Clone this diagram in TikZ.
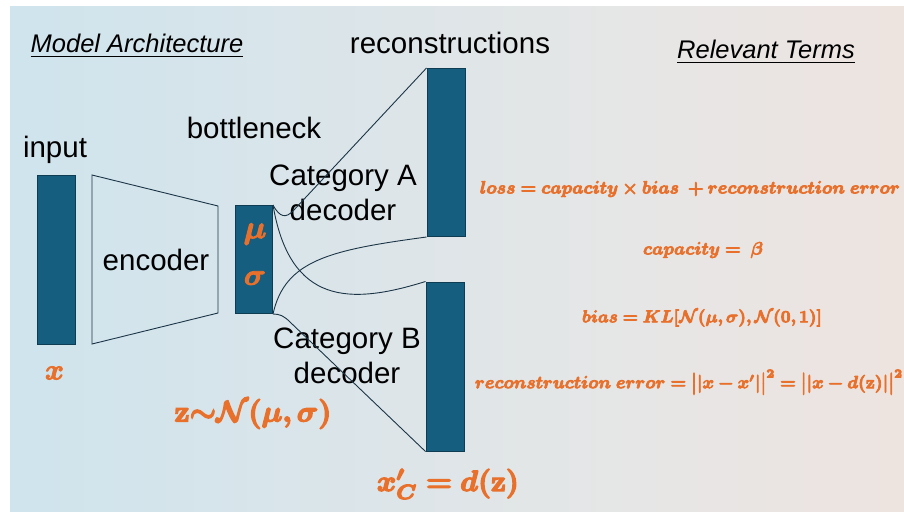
\documentclass[tikz,border=0pt]{standalone}
\usepackage[no-math]{fontspec}
\setmainfont{Liberation Sans}
\usepackage{amsmath,bm,graphicx}
\definecolor{bgL}{HTML}{C1E3F3}
\definecolor{bgLM}{HTML}{D2E4EC}
\definecolor{bgM}{HTML}{E6E6E6}
\definecolor{bgMR}{HTML}{F2E2DB}
\definecolor{bgR}{HTML}{FAE0D5}
\definecolor{barfill}{HTML}{165E80}
\definecolor{barline}{HTML}{0E3C52}
\definecolor{wire}{HTML}{1B3546}
\definecolor{orng}{HTML}{E8702B}
\pgfdeclarehorizontalshading{bgshade}{100bp}{color(0bp)=(bgL); color(30bp)=(bgLM); color(60bp)=(bgM); color(85bp)=(bgMR); color(100bp)=(bgR)}
\newcommand{\heavytxt}[2]{\special{pdf:literal direct 0.910 0.439 0.169 RG #1 w 2 Tr}#2\special{pdf:literal direct 0 Tr}}
\begin{document}
\begin{tikzpicture}[x=1pt,y=-1pt,
  bar/.style={draw=barline,line width=1pt,fill=barfill,inner sep=0pt,minimum width=38pt},
  lbl/.style={font=\fontsize{29.5}{35}\selectfont,inner sep=0pt,align=center},
  head/.style={font=\fontsize{25.5}{30}\selectfont\itshape,inner sep=0pt},
  om/.style={text=orng,inner sep=0pt},
  wirel/.style={draw=wire,line width=0.9pt}]
\useasboundingbox (0,0) rectangle (904,511);
\shade[shading=bgshade] (10,7) rectangle (904,511);

% headings
\node[head] (h1) at (137,46) {\underline{Model Architecture}};
\node[head] (h2) at (766,52) {\underline{Relevant Terms}};
\node[lbl] (rec) at (450,43) {reconstructions};
\node[lbl] (inp) at (55,150) {input};
\node[lbl] (bot) at (254,128) {bottleneck};

% bars
\node[bar,minimum height=169pt] (in) at (56,259.5) {};
\node[bar,minimum height=108pt,minimum width=37pt] (bn) at (254,259.5) {};
\node[bar,minimum height=168pt] (ra) at (446,152.5) {};
\node[bar,minimum height=169pt] (rb) at (445,366.5) {};

% encoder
\coordinate (e1) at (92,175);
\coordinate (e2) at (218,206);
\coordinate (e3) at (218,313);
\coordinate (e4) at (92,344);
\draw[wirel] (e1) -- (e2) -- (e3) -- (e4) -- cycle;
\node[lbl] (enc) at (156,260) {encoder};

% decoder labels
\node[lbl] (catA) at (343,192.5) {Category A\\decoder};
\node[lbl] (catB) at (347,355.5) {Category B\\decoder};

% connectors
\draw[wirel] (bn.north east) .. controls (280,218) and (286,218) .. (293,211) -- (ra.north west);
\draw[wirel] (bn.north east) .. controls (290,305) and (350,305) .. (rb.north west);
\draw[wirel] (bn.south east) .. controls (285,260) and (330,250) .. (ra.south west);
\draw[wirel] (bn.south east) .. controls (280,314) and (284,316) .. (290,322) -- (rb.south west);

% orange math
\node[om] (mu) at (255,234) {\resizebox{23pt}{!}{\heavytxt{0.3}{$\bm{\mu}$}}};
\node[om] (sg) at (255,278) {\resizebox{22pt}{!}{\heavytxt{0.3}{$\bm{\sigma}$}}};
\node[om] (xin) at (54.5,373) {\resizebox{19pt}{!}{\heavytxt{0.3}{$\bm{x}$}}};
\node[om] (zdist) at (253,414) {\resizebox{157pt}{!}{\heavytxt{0.45}{$\bm{\mathbf{z}{\sim}\mathcal{N}(\mu,\sigma)}$}}};
\node[om] (xc) at (448,484) {\resizebox{142pt}{!}{\heavytxt{0.45}{$\bm{x'_C = d(\mathbf{z})}$}}};

\node[om] (loss) at (690,189) {\resizebox{420pt}{!}{\heavytxt{0.45}{$\bm{loss = capacity \times bias\ + reconstruction\ error}$}}};
\node[om] (cap) at (703,250) {\resizebox{120pt}{!}{\heavytxt{0.4}{$\bm{capacity =\ \beta}$}}};
\node[om] (bias) at (702,318) {\resizebox{240pt}{!}{\heavytxt{0.45}{$\bm{bias = KL[\mathcal{N}(\mu,\sigma), \mathcal{N}(0,1)]}$}}};
\node[om] (recerr) at (689,382) {\resizebox{428pt}{!}{\heavytxt{0.45}{$\bm{reconstruction\ error = \big||x - x'|\big|^2 = \big||x - d(\mathbf{z})|\big|^2}$}}};
\end{tikzpicture}
\end{document}
